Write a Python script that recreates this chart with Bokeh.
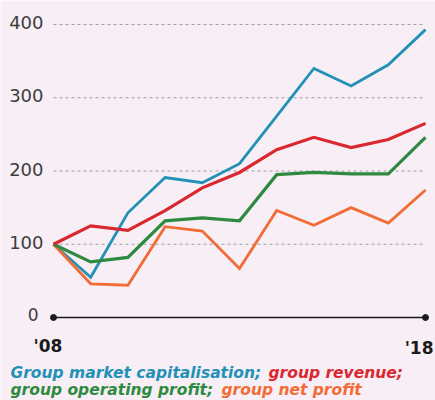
from bokeh.plotting import figure
from bokeh.models import Range1d, ColumnDataSource
from bokeh.core.properties import value
from bokeh.embed import file_html
from bokeh.resources import INLINE

# ---- data ----
years = [2008, 2009, 2010, 2011, 2012, 2013, 2014, 2015, 2016, 2017, 2018]
market_cap = [100, 55, 143, 191, 184, 210, 275, 340, 316, 345, 393]
revenue = [100, 125, 119, 146, 177, 198, 229, 246, 232, 243, 265]
operating_profit = [100, 76, 82, 132, 136, 132, 195, 198, 196, 196, 246]
net_profit = [100, 46, 44, 124, 118, 67, 146, 126, 150, 129, 174]
y_ticks = [100, 200, 300, 400]
x_tick_labels = ["'08", "'18"]
legend_parts = ["Group market capitalisation;", "group revenue;",
                "group operating profit;", "group net profit"]

# ---- style / layout ----
W, H = 435, 400
BG = "#f7eef6"
C_BLUE, C_RED, C_GREEN, C_ORANGE = "#2391b5", "#d9282f", "#2e8a40", "#f26c35"
FONT = value("DejaVu Sans")
px_per_year = 37.2
px_per_100 = 73.25
left_px, zero_px = 53, 317          # canvas position of first year and of 0

x_start = years[0] - left_px / px_per_year
x_end = x_start + W / px_per_year
y_end = (zero_px / px_per_100) * 100
y_start = y_end - H / px_per_100 * 100

p = figure(width=W, height=H, output_backend="svg", toolbar_location=None,
           x_range=Range1d(x_start, x_end), y_range=Range1d(y_start, y_end),
           min_border=0, min_border_left=0, min_border_right=0,
           min_border_top=0, min_border_bottom=0)
p.axis.visible = False
p.grid.visible = False
p.outline_line_color = None
p.background_fill_color = BG
p.border_fill_color = BG

# dashed gridlines
p.segment(x0=[years[0]] * len(y_ticks), x1=[years[-1]] * len(y_ticks),
          y0=y_ticks, y1=y_ticks, line_color="#a0a0a0", line_width=1,
          line_dash="3 3")
# tick labels
p.text(x=[years[0]] * len(y_ticks), y=y_ticks, text=[str(t) for t in y_ticks],
       text_font=FONT, text_font_size="18px", text_color="#3d3d3d",
       text_align="right", text_baseline="middle", x_offset=-10, y_offset=-2)
p.text(x=[years[0]], y=[0], text=["0"], text_font=FONT,
       text_font_size="17px", text_color="#3d3d3d", text_align="right",
       text_baseline="middle", x_offset=-15, y_offset=-3)

# baseline axis with dots
p.line(x=[years[0], years[-1]], y=[0, 0], line_color="#1a1a1a", line_width=1.5)
p.scatter(x=[years[0], years[-1]], y=[0, 0], size=6, color="#1a1a1a")

# x labels
p.text(x=[years[0]], y=[0], text=[x_tick_labels[0]], text_font=FONT,
       text_font_style="bold", text_font_size="17px", text_color="#1a1a1a",
       text_align="left", text_baseline="alphabetic", x_offset=-20, y_offset=28)
p.text(x=[years[-1]], y=[0], text=[x_tick_labels[1]], text_font=FONT,
       text_font_style="bold", text_font_size="17px", text_color="#1a1a1a",
       text_align="right", text_baseline="alphabetic", x_offset=8, y_offset=30)

# series
src = ColumnDataSource(dict(year=years, mc=market_cap, rev=revenue,
                            op=operating_profit, net=net_profit))
p.line("year", "mc", source=src, line_color=C_BLUE, line_width=2.8, line_join="miter")
p.line("year", "net", source=src, line_color=C_ORANGE, line_width=2.8, line_join="miter")
p.line("year", "op", source=src, line_color=C_GREEN, line_width=3.2, line_join="miter")
p.line("year", "rev", source=src, line_color=C_RED, line_width=3.2, line_join="miter")

# legend text (coloured run-in)
leg_colors = [C_BLUE, C_RED, C_GREEN, C_ORANGE]
leg_xoff = [-43, 215, -43, 168]
leg_yoff = [55, 55, 72, 72]
p.text(x=[years[0]] * 4, y=[0] * 4, text=legend_parts, text_color=leg_colors,
       text_font=FONT, text_font_style="bold italic",
       text_font_size="15.5px", text_align="left", text_baseline="alphabetic",
       x_offset=leg_xoff, y_offset=leg_yoff)

open("out.html", "w").write(file_html(p, INLINE))
